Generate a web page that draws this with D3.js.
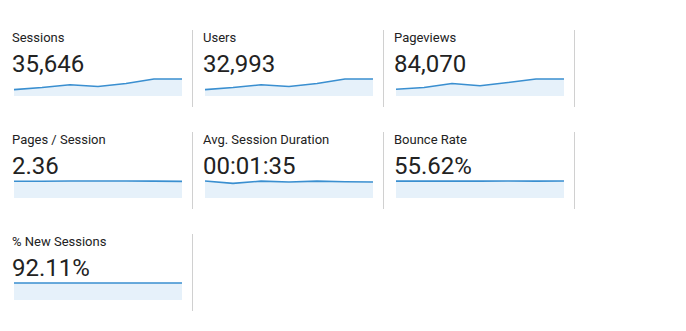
<!DOCTYPE html>
<html>
<head>
<meta charset="utf-8">
<script src="https://cdn.jsdelivr.net/npm/d3@7/dist/d3.min.js"></script>
<style>
  html, body { margin: 0; padding: 0; background: #fff; }
  svg { display: block; font-family: Roboto, "Noto Sans", sans-serif; }
</style>
</head>
<body>
<svg id="chart" width="686" height="331"></svg>
<script>
// ---- Data ----
const metricNames = ["Sessions", "Users", "Pageviews", "Pages / Session", "Avg. Session Duration", "Bounce Rate", "% New Sessions"];
const metricTotals = ["35,646", "32,993", "84,070", "2.36", "00:01:35", "55.62%", "92.11%"];
const sessions = [2790, 3670, 4870, 4110, 5440, 7380, 7386];
const users = [2580, 3400, 4510, 3800, 5030, 6830, 6843];
const pageviews = [6687, 8308, 12320, 10013, 13307, 16717, 16718];
const pagesPerSession = [2.35, 2.34, 2.38, 2.37, 2.37, 2.36, 2.33];
const avgSessionDurationSec = [100, 86, 99, 94, 99, 96, 94];
const bounceRate = [55.4, 55.5, 55.6, 55.6, 55.7, 55.6, 55.9];
const newSessionsPct = [92.0, 92.1, 92.2, 92.1, 92.1, 92.1, 92.2];
const seriesList = [sessions, users, pageviews, pagesPerSession, avgSessionDurationSec, bounceRate, newSessionsPct];

// ---- Layout ----
const svg = d3.select("#chart");
const colW = 191, rowH = 102, perRow = 3;
const textX = 12, sparkX0 = 14, sparkW = 168;
const titleY = 42, valueY = 72, sparkBottom = 96, sparkH = 17;
const divX = 192.5, divTop = 30, divBottom = 107;

metricNames.forEach((name, i) => {
  const c = i % perRow, r = Math.floor(i / perRow);
  const g = svg.append("g").attr("transform", `translate(${c * colW},${r * rowH})`);
  const data = seriesList[i];

  g.append("text")
    .attr("x", textX).attr("y", titleY)
    .attr("font-size", 13).attr("fill", "#222")
    .text(name);

  g.append("text")
    .attr("x", textX).attr("y", valueY)
    .attr("font-size", 24).attr("fill", "#222")
    .text(metricTotals[i]);

  const x = d3.scaleLinear().domain([0, data.length - 1]).range([sparkX0, sparkX0 + sparkW]);
  const y = d3.scaleLinear().domain([0, d3.max(data)]).range([sparkBottom, sparkBottom - sparkH]);

  g.append("path")
    .datum(data)
    .attr("fill", "#e6f1fa")
    .attr("d", d3.area().x((d, j) => x(j)).y0(sparkBottom).y1(d => y(d)));

  g.append("path")
    .datum(data)
    .attr("fill", "none")
    .attr("stroke", "#3a8fd0")
    .attr("stroke-width", 1.6)
    .attr("stroke-linejoin", "round")
    .attr("d", d3.line().x((d, j) => x(j)).y(d => y(d)));

  g.append("line")
    .attr("x1", divX).attr("x2", divX)
    .attr("y1", divTop).attr("y2", divBottom)
    .attr("stroke", "#d0d0d0").attr("stroke-width", 1);
});
</script>
</body>
</html>
